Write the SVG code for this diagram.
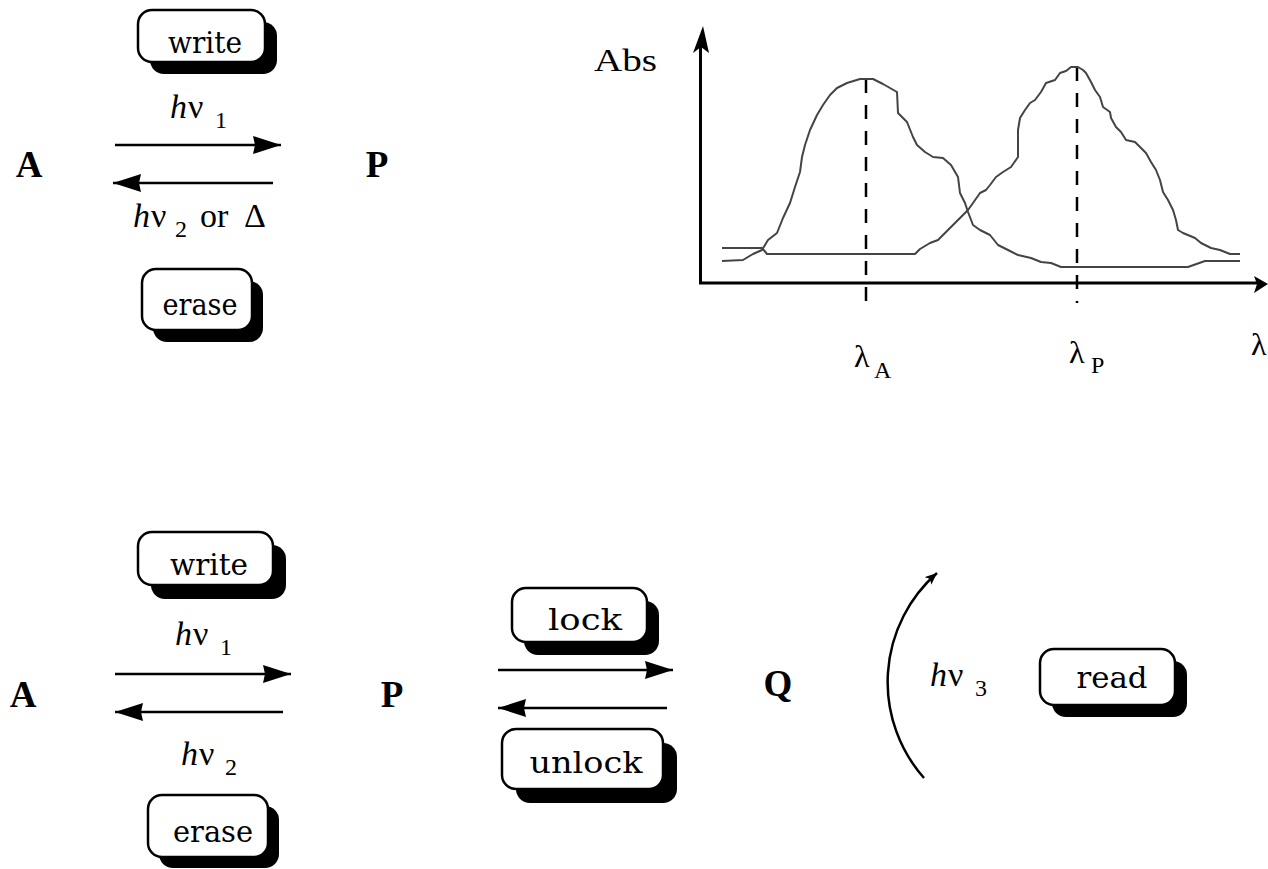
<svg xmlns="http://www.w3.org/2000/svg" width="1268" height="869" viewBox="0 0 1268 869">
<style>
.bg{fill:#fff}
.box{fill:#fff;stroke:#000;stroke-width:2.5}
.shadow{fill:#000}
.lbl{font-family:"DejaVu Serif","Liberation Serif",serif;font-size:30px;text-anchor:middle;fill:#000}
.big{font-family:"Liberation Serif",serif;font-weight:bold;font-size:37px;text-anchor:middle;fill:#000}
.hv{font-family:"Liberation Serif",serif;font-size:34px;fill:#000}
.sub{font-size:24px}
.ax{font-family:"Liberation Serif",serif;font-size:32px;fill:#000}
.conn{stroke:#000;stroke-width:2.5;fill:none}
.axis{stroke:#000;stroke-width:3;fill:none}
.curve{stroke:#444;stroke-width:2;fill:none;stroke-linejoin:round}
.dash{stroke:#000;stroke-width:2.5;stroke-dasharray:14 12;fill:none}
</style>
<defs>
<marker id="ah" markerUnits="userSpaceOnUse" markerWidth="30" markerHeight="20" viewBox="0 0 30 20" refX="28" refY="9" orient="auto">
<path d="M0,0 L28,9 L0,18 L2,9 Z" fill="#000"/>
</marker>
<marker id="sm" markerUnits="userSpaceOnUse" markerWidth="14" markerHeight="12" viewBox="0 0 14 12" refX="12" refY="5" orient="auto">
<path d="M0,0 L12,5 L0,10 L3,5 Z" fill="#000"/>
</marker>
</defs>
<rect class="bg" x="0" y="0" width="1268" height="869"/>

<g id="top-write">
<rect class="shadow" x="150" y="22" width="127" height="52" rx="14"/>
<rect class="box" x="138" y="10" width="127" height="52" rx="14"/>
<text class="lbl" x="205" y="53" textLength="74" lengthAdjust="spacingAndGlyphs">write</text>
</g>
<g id="top-erase">
<rect class="shadow" x="153" y="281" width="110" height="61" rx="14"/>
<rect class="box" x="142" y="269" width="110" height="61" rx="14"/>
<text class="lbl" x="200" y="315" textLength="75" lengthAdjust="spacingAndGlyphs">erase</text>
</g>
<g id="top-A"><text class="big" x="29" y="177">A</text></g>
<g id="top-P"><text class="big" x="377" y="177">P</text></g>
<g id="top-hv1"><text class="hv" y="118"><tspan x="170" font-style="italic">h</tspan><tspan x="188">ν</tspan><tspan class="sub" x="215" y="128">1</tspan></text></g>
<g id="top-hv2"><text class="hv" y="227"><tspan x="133" font-style="italic">h</tspan><tspan x="151">ν</tspan><tspan class="sub" x="175" y="237">2</tspan><tspan x="200" y="227">or</tspan><tspan x="244" y="227">Δ</tspan></text></g>

<g id="graph">
<line class="axis" x1="700.5" y1="40" x2="700.5" y2="284"/>
<polygon points="703,26 709,53 701,47 693,53" fill="#000"/>
<line class="axis" x1="699" y1="283" x2="1258" y2="283"/>
<polygon points="1268,284 1254,276 1257,284 1254,293" fill="#000"/>
<line class="dash" x1="866" y1="79" x2="866" y2="303"/>
<line class="dash" x1="1077" y1="67" x2="1077" y2="303"/>
<polyline class="curve" points="722,261 743,260 753,254 762,250 768,240 777,233 783,218 790,203 795,187 800,172 802,157 805,145 810,130 817,115 823,105 830,95 837,88 847,83 860,79 873,79 883,84 897,92 898,113 907,122 913,137 917,145 925,152 933,157 943,158 951,165 958,177 960,193 965,203 968,212 973,225 980,230 990,235 998,245 1008,250 1018,255 1031,258 1041,262 1051,263 1061,267 1188,267 1205,261 1240,261"/>
<polyline class="curve" points="722,248 762,248 767,254 915,254 920,249 930,243 938,240 945,233 951,227 961,217 968,210 973,203 980,193 986,190 990,185 996,177 1003,172 1011,167 1018,157 1018,143 1018,130 1020,118 1025,110 1030,103 1035,100 1041,92 1046,83 1055,80 1060,73 1066,71 1071,67 1078,67 1083,70 1086,73 1091,82 1095,90 1100,97 1103,107 1110,112 1111,118 1116,127 1121,132 1126,140 1135,142 1141,148 1146,153 1151,162 1156,170 1160,180 1163,192 1168,200 1173,210 1176,220 1178,230 1183,233 1195,238 1201,243 1211,248 1220,250 1230,254 1240,254"/>
<text class="ax" x="594" y="71" textLength="63" lengthAdjust="spacingAndGlyphs">Abs</text>
<text class="ax" x="854" y="367">λ<tspan class="sub" x="874" y="378">A</tspan></text>
<text class="ax" x="1069" y="363">λ<tspan class="sub" x="1091" y="373">P</tspan></text>
<text class="ax" x="1251" y="355">λ</text>
</g>

<g id="bot-write">
<rect class="shadow" x="151" y="545" width="135" height="54" rx="14"/>
<rect class="box" x="138" y="532" width="135" height="53" rx="14"/>
<text class="lbl" x="209" y="575" textLength="78" lengthAdjust="spacingAndGlyphs">write</text>
</g>
<g id="bot-erase">
<rect class="shadow" x="159" y="806" width="120" height="62" rx="14"/>
<rect class="box" x="148" y="795" width="120" height="62" rx="14"/>
<text class="lbl" x="213" y="842" textLength="80" lengthAdjust="spacingAndGlyphs">erase</text>
</g>
<g id="lock">
<rect class="shadow" x="524" y="601" width="135" height="54" rx="14"/>
<rect class="box" x="512" y="588" width="135" height="54" rx="14"/>
<text class="lbl" x="585" y="630" textLength="74" lengthAdjust="spacingAndGlyphs">lock</text>
</g>
<g id="unlock">
<rect class="shadow" x="516" y="743" width="161" height="60" rx="14"/>
<rect class="box" x="502" y="729" width="161" height="60" rx="14"/>
<text class="lbl" x="586" y="773" textLength="113" lengthAdjust="spacingAndGlyphs">unlock</text>
</g>
<g id="read">
<rect class="shadow" x="1052" y="661" width="135" height="56" rx="14"/>
<rect class="box" x="1040" y="649" width="135" height="56" rx="14"/>
<text class="lbl" x="1112" y="688" textLength="71" lengthAdjust="spacingAndGlyphs">read</text>
</g>
<g id="bot-A"><text class="big" x="23" y="707">A</text></g>
<g id="bot-P"><text class="big" x="392" y="707">P</text></g>
<g id="bot-Q"><text class="big" x="778" y="696">Q</text></g>
<g id="bot-hv1"><text class="hv" y="645"><tspan x="175" font-style="italic">h</tspan><tspan x="193">ν</tspan><tspan class="sub" x="220" y="655">1</tspan></text></g>
<g id="bot-hv2"><text class="hv" y="765"><tspan x="181" font-style="italic">h</tspan><tspan x="199">ν</tspan><tspan class="sub" x="225" y="775">2</tspan></text></g>
<g id="bot-hv3"><text class="hv" y="686"><tspan x="930" font-style="italic">h</tspan><tspan x="948">ν</tspan><tspan class="sub" x="975" y="696">3</tspan></text></g>

<g id="connectors">
<line class="conn" x1="115" y1="145" x2="281" y2="145" marker-end="url(#ah)"/>
<line class="conn" x1="273" y1="183" x2="113" y2="183" marker-end="url(#ah)"/>
<line class="conn" x1="115" y1="674" x2="291" y2="674" marker-end="url(#ah)"/>
<line class="conn" x1="283" y1="712" x2="115" y2="712" marker-end="url(#ah)"/>
<line class="conn" x1="498" y1="670" x2="673" y2="670" marker-end="url(#ah)"/>
<line class="conn" x1="667" y1="708" x2="498" y2="708" marker-end="url(#ah)"/>
<path class="conn" stroke-width="2" d="M924,778 A145,145 0 0 1 937,573" marker-end="url(#sm)"/>
</g>
</svg>
